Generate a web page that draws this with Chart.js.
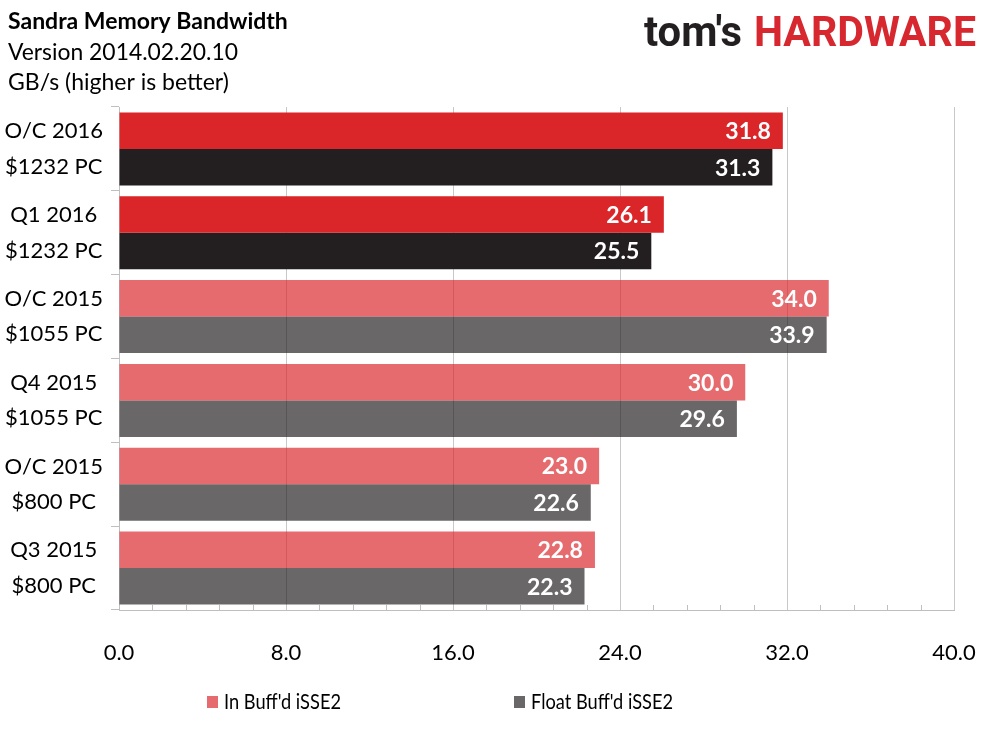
<!DOCTYPE html>
<html>
<head>
<meta charset="utf-8">
<title>Sandra Memory Bandwidth</title>
<script src="https://cdn.jsdelivr.net/npm/chart.js@4/dist/chart.umd.min.js"></script>
<style>
  html, body { margin: 0; padding: 0; background: #fff; }
  #wrap { width: 989px; height: 741px; }
</style>
</head>
<body>
<div id="wrap"><canvas id="chart" width="989" height="741"></canvas></div>
<script>
// chart values
const categories = [
    ['O/C 2016', '$1232 PC'],
    ['Q1 2016', '$1232 PC'],
    ['O/C 2015', '$1055 PC'],
    ['Q4 2015', '$1055 PC'],
    ['O/C 2015', '$800 PC'],
    ['Q3 2015', '$800 PC']
];
const seriesNames = ["In Buff'd iSSE2", "Float Buff'd iSSE2"];
const inBuffValues = [31.8, 26.1, 34.0, 30.0, 23.0, 22.8];
const floatBuffValues = [31.3, 25.5, 33.9, 29.6, 22.6, 22.3];
const xMin = 0;
const xMax = 40;
const xMajorStep = 8;
const xMinorStep = 1.6;
const titleLines = ['Sandra Memory Bandwidth', 'Version 2014.02.20.10', 'GB/s (higher is better)'];
const newestBuilds = 2; // first two rows are the 2016 builds

const FONT = 'Lato, "Open Sans", sans-serif';
const RED = '#da2529';
const BLACK = '#231f20';
const RED_FADED = 'rgba(218, 37, 41, 0.68)';
const BLACK_FADED = 'rgba(35, 31, 32, 0.68)';
const AXIS_GREY = '#bfbfbf';

function barColors(solid, faded) {
    return categories.map((c, i) => i < newestBuilds ? solid : faded);
}

// title lines + logo at the top
const headerPlugin = {
    id: 'header',
    beforeDraw(chart) {
        const ctx = chart.ctx;
        ctx.save();
        ctx.fillStyle = '#000';
        ctx.textAlign = 'left';
        ctx.textBaseline = 'alphabetic';
        ctx.font = 'bold 23px ' + FONT;
        ctx.fillText(titleLines[0], 8, 29, 283);
        ctx.font = '23px ' + FONT;
        ctx.fillText(titleLines[1], 8, 60, 230);
        ctx.fillText(titleLines[2], 8, 90, 224);

        ctx.font = 'bold 43px Roboto, sans-serif';
        ctx.fillStyle = BLACK;
        ctx.fillText("tom's", 644, 46, 98);
        ctx.fillStyle = '#d7282f';
        ctx.fillText('HARDWARE', 754, 46, 222);
        ctx.restore();
    }
};

// small inside tick marks on the value axis
const minorTicksPlugin = {
    id: 'minorTicks',
    afterDatasetsDraw(chart) {
        const x = chart.scales.x;
        const ctx = chart.ctx;
        const bottom = chart.chartArea.bottom;
        ctx.save();
        ctx.strokeStyle = AXIS_GREY;
        ctx.lineWidth = 1;
        const n = Math.round((xMax - xMin) / xMinorStep);
        for (let i = 1; i < n; i++) {
            if (i % Math.round(xMajorStep / xMinorStep) === 0) continue;
            const px = Math.round(x.getPixelForValue(xMin + i * xMinorStep)) + 0.5;
            ctx.beginPath();
            ctx.moveTo(px, bottom - 5);
            ctx.lineTo(px, bottom);
            ctx.stroke();
        }
        ctx.restore();
    }
};

// white value labels inside the end of each bar
const valueLabelsPlugin = {
    id: 'valueLabels',
    afterDatasetsDraw(chart) {
        const ctx = chart.ctx;
        ctx.save();
        ctx.fillStyle = '#fff';
        ctx.font = 'bold 23px ' + FONT;
        ctx.textAlign = 'right';
        ctx.textBaseline = 'middle';
        chart.data.datasets.forEach((ds, di) => {
            chart.getDatasetMeta(di).data.forEach((bar, i) => {
                ctx.fillText(ds.data[i].toFixed(1), bar.x - 12, bar.y + 1);
            });
        });
        ctx.restore();
    }
};

// legend drawn like the original (wide gap between the two entries)
const legendPlugin = {
    id: 'wideLegend',
    afterDraw(chart) {
        const ctx = chart.ctx;
        const boxes = [207, 514];
        const widths = [117, 142];
        const colors = [RED_FADED, BLACK_FADED];
        ctx.save();
        ctx.font = '21px ' + FONT;
        ctx.textAlign = 'left';
        ctx.textBaseline = 'alphabetic';
        chart.data.datasets.forEach((ds, i) => {
            ctx.fillStyle = colors[i];
            ctx.fillRect(boxes[i], 696, 11, 12);
            ctx.fillStyle = '#000';
            ctx.fillText(ds.label, boxes[i] + 17, 709, widths[i]);
        });
        ctx.restore();
    }
};

const ctx = document.getElementById('chart').getContext('2d');
const chart = new Chart(ctx, {
    type: 'bar',
    data: {
        labels: categories,
        datasets: [{
            label: seriesNames[0],
            data: inBuffValues,
            backgroundColor: barColors(RED, RED_FADED),
            borderWidth: 0,
            categoryPercentage: 0.87,
            barPercentage: 1.0
        }, {
            label: seriesNames[1],
            data: floatBuffValues,
            backgroundColor: barColors(BLACK, BLACK_FADED),
            borderWidth: 0,
            categoryPercentage: 0.87,
            barPercentage: 1.0
        }]
    },
    options: {
        indexAxis: 'y',
        responsive: false,
        animation: false,
        layout: {
            padding: { top: 107, right: 35, bottom: 0, left: 0 }
        },
        scales: {
            x: {
                min: xMin,
                max: xMax,
                afterFit: function(scale) {
                    scale.height = 131;
                    scale.paddingLeft = 0;
                    scale.paddingRight = 0;
                },
                ticks: {
                    stepSize: xMajorStep,
                    color: '#000',
                    padding: 30,
                    maxRotation: 0,
                    font: { family: FONT, size: 22 },
                    callback: function(value) { return value.toFixed(1); }
                },
                grid: {
                    color: '#c8c8c8',
                    drawTicks: false
                },
                border: { color: AXIS_GREY }
            },
            y: {
                afterFit: function(scale) { scale.width = 119; },
                ticks: {
                    color: '#000',
                    padding: 8,
                    crossAlign: 'center',
                    font: { family: FONT, size: 22, lineHeight: 1.62 }
                },
                grid: {
                    offset: true,
                    drawOnChartArea: false,
                    tickLength: 8,
                    color: AXIS_GREY
                },
                border: { color: AXIS_GREY }
            }
        },
        plugins: {
            legend: { display: false },
            title: { display: false },
            tooltip: { enabled: false }
        }
    },
    plugins: [headerPlugin, minorTicksPlugin, valueLabelsPlugin, legendPlugin]
});
</script>
</body>
</html>
